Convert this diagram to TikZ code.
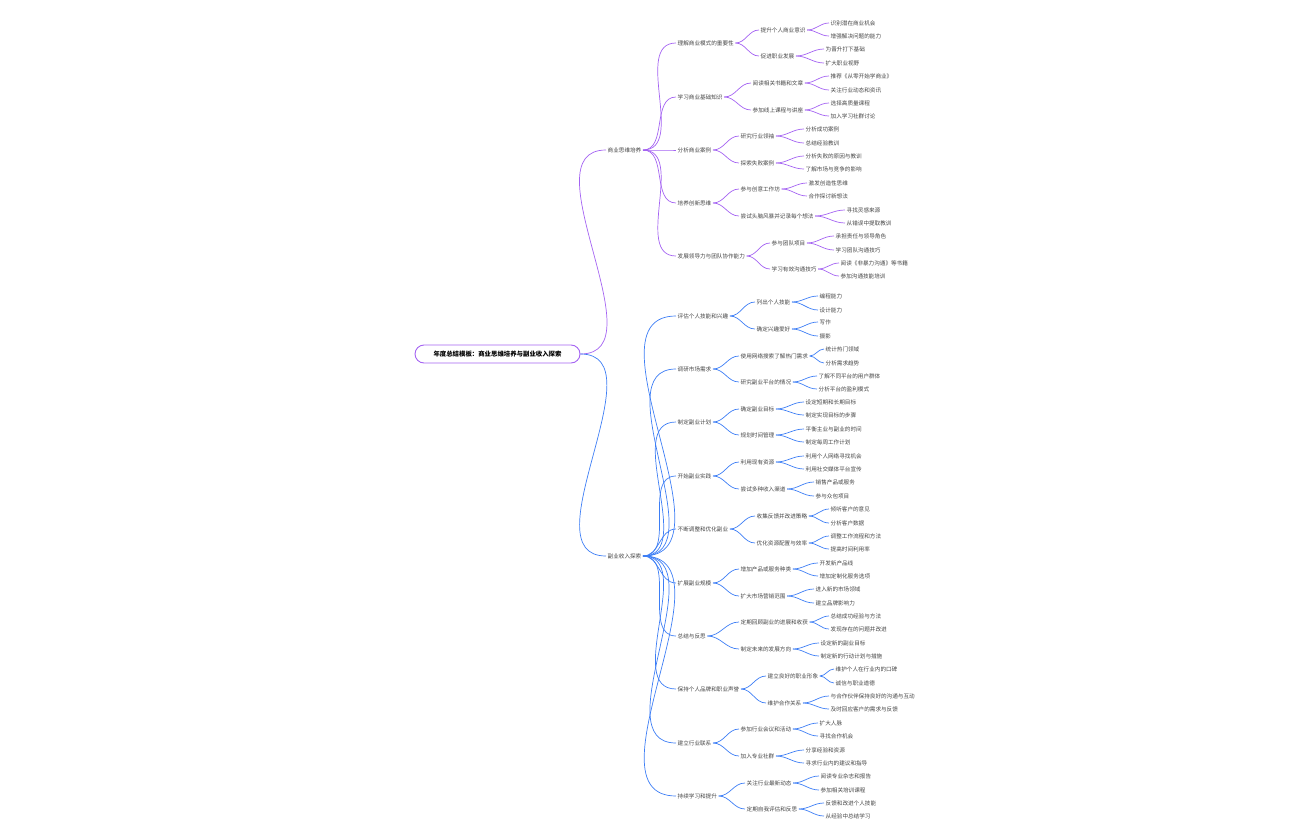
\documentclass[tikz,border=0pt]{standalone}
\usepackage{fontspec}
\setmainfont{Noto Sans CJK SC}
\definecolor{pu}{HTML}{A463F2}
\definecolor{bl}{HTML}{3D7EF5}
\definecolor{tx}{HTML}{444444}
\begin{document}
\begin{tikzpicture}[x=1pt,y=1pt,
  t/.style={anchor=west,inner sep=1.5pt,text=tx,font=\fontsize{5.6}{6}\selectfont},
  e/.style={line width=0.7pt}]
\useasboundingbox (0,0) rectangle (1296,-840);
\newcommand\N[5]{\node[t] (#1) at (#3,-#4) {#5}; \draw[e] (#2.east) to[out=0,in=180] (#1.west);}
\node[draw=pu,line width=0.9pt,rounded corners=9pt,minimum width=165pt,minimum height=18pt,inner sep=2pt,text=black,font=\fontsize{6.4}{7}\bfseries\selectfont] (R) at (497.5,-354) {年度总结模板：商业思维培养与副业收入探索};
\begin{scope}[pu]
\N{A}{R}{606}{150}{商业思维培养}
\N{A1}{A}{676}{43}{理解商业模式的重要性}
\N{A1a}{A1}{759}{30}{提升个人商业意识}
\N{A1a1}{A1a}{829}{23}{识别潜在商业机会}
\N{A1a2}{A1a}{829}{36}{增强解决问题的能力}
\N{A1b}{A1}{759}{56}{促进职业发展}
\N{A1b1}{A1b}{824}{49}{为晋升打下基础}
\N{A1b2}{A1b}{824}{63}{扩大职业视野}
\N{A2}{A}{676}{97}{学习商业基础知识}
\N{A2a}{A2}{751}{83}{阅读相关书籍和文章}
\N{A2a1}{A2a}{829}{76}{推荐《从零开始学商业》}
\N{A2a2}{A2a}{829}{90}{关注行业动态和资讯}
\N{A2b}{A2}{751}{110}{参加线上课程与讲座}
\N{A2b1}{A2b}{829}{103}{选择高质量课程}
\N{A2b2}{A2b}{829}{116}{加入学习社群讨论}
\N{A3}{A}{676}{150}{分析商业案例}
\N{A3a}{A3}{739}{136}{研究行业领袖}
\N{A3a1}{A3a}{804}{129}{分析成功案例}
\N{A3a2}{A3a}{804}{143}{总结经验教训}
\N{A3b}{A3}{739}{163}{探索失败案例}
\N{A3b1}{A3b}{804}{156}{分析失败的原因与教训}
\N{A3b2}{A3b}{804}{169}{了解市场与竞争的影响}
\N{A4}{A}{676}{203}{培养创新思维}
\N{A4a}{A4}{739}{189}{参与创意工作坊}
\N{A4a1}{A4a}{807}{183}{激发创造性思维}
\N{A4a2}{A4a}{807}{196}{合作探讨新想法}
\N{A4b}{A4}{739}{216}{尝试头脑风暴并记录每个想法}
\N{A4b1}{A4b}{845}{210}{寻找灵感来源}
\N{A4b2}{A4b}{845}{223}{从错误中提取教训}
\N{A5}{A}{676}{256}{发展领导力与团队协作能力}
\N{A5a}{A5}{770}{243}{参与团队项目}
\N{A5a1}{A5a}{834}{236}{承担责任与领导角色}
\N{A5a2}{A5a}{834}{250}{学习团队沟通技巧}
\N{A5b}{A5}{770}{269}{学习有效沟通技巧}
\N{A5b1}{A5b}{839}{263}{阅读《非暴力沟通》等书籍}
\N{A5b2}{A5b}{839}{276}{参加沟通技能培训}
\end{scope}
\begin{scope}[bl]
\N{B}{R}{606}{556}{副业收入探索}
\N{B1}{B}{676}{316}{评估个人技能和兴趣}
\N{B1a}{B1}{755}{302}{列出个人技能}
\N{B1a1}{B1a}{818}{296}{编程能力}
\N{B1a2}{B1a}{818}{310}{设计能力}
\N{B1b}{B1}{755}{329}{确定兴趣爱好}
\N{B1b1}{B1b}{818}{322}{写作}
\N{B1b2}{B1b}{818}{336}{摄影}
\N{B2}{B}{676}{369}{调研市场需求}
\N{B2a}{B2}{739}{356}{使用网络搜索了解热门需求}
\N{B2a1}{B2a}{824}{349}{统计热门领域}
\N{B2a2}{B2a}{824}{363}{分析需求趋势}
\N{B2b}{B2}{739}{382}{研究副业平台的情况}
\N{B2b1}{B2b}{817}{376}{了解不同平台的用户群体}
\N{B2b2}{B2b}{817}{389}{分析平台的盈利模式}
\N{B3}{B}{676}{422}{制定副业计划}
\N{B3a}{B3}{739}{409}{确定副业目标}
\N{B3a1}{B3a}{804}{402}{设定短期和长期目标}
\N{B3a2}{B3a}{804}{415}{制定实现目标的步骤}
\N{B3b}{B3}{739}{435}{规划时间管理}
\N{B3b1}{B3b}{804}{429}{平衡主业与副业的时间}
\N{B3b2}{B3b}{804}{442}{制定每周工作计划}
\N{B4}{B}{676}{476}{开始副业实践}
\N{B4a}{B4}{739}{462}{利用现有资源}
\N{B4a1}{B4a}{804}{456}{利用个人网络寻找机会}
\N{B4a2}{B4a}{804}{469}{利用社交媒体平台宣传}
\N{B4b}{B4}{739}{489}{尝试多种收入渠道}
\N{B4b1}{B4b}{814}{482}{销售产品或服务}
\N{B4b2}{B4b}{814}{496}{参与众包项目}
\N{B5}{B}{676}{529}{不断调整和优化副业}
\N{B5a}{B5}{755}{516}{收集反馈并改进策略}
\N{B5a1}{B5a}{829}{509}{倾听客户的意见}
\N{B5a2}{B5a}{829}{523}{分析客户数据}
\N{B5b}{B5}{755}{543}{优化资源配置与效率}
\N{B5b1}{B5b}{829}{536}{调整工作流程和方法}
\N{B5b2}{B5b}{829}{549}{提高时间利用率}
\N{B6}{B}{676}{583}{扩展副业规模}
\N{B6a}{B6}{739}{569}{增加产品或服务种类}
\N{B6a1}{B6a}{818}{563}{开发新产品线}
\N{B6a2}{B6a}{818}{576}{增加定制化服务选项}
\N{B6b}{B6}{739}{596}{扩大市场营销范围}
\N{B6b1}{B6b}{814}{589}{进入新的市场领域}
\N{B6b2}{B6b}{814}{603}{建立品牌影响力}
\N{B7}{B}{676}{636}{总结与反思}
\N{B7a}{B7}{739}{622}{定期回顾副业的进展和收获}
\N{B7a1}{B7a}{829}{616}{总结成功经验与方法}
\N{B7a2}{B7a}{829}{629}{发现存在的问题并改进}
\N{B7b}{B7}{739}{649}{制定未来的发展方向}
\N{B7b1}{B7b}{819}{643}{设定新的副业目标}
\N{B7b2}{B7b}{819}{656}{制定新的行动计划与措施}
\N{B8}{B}{676}{689}{保持个人品牌和职业声誉}
\N{B8a}{B8}{766}{676}{建立良好的职业形象}
\N{B8a1}{B8a}{834}{669}{维护个人在行业内的口碑}
\N{B8a2}{B8a}{834}{683}{诚信与职业道德}
\N{B8b}{B8}{766}{703}{维护合作关系}
\N{B8b1}{B8b}{829}{696}{与合作伙伴保持良好的沟通与互动}
\N{B8b2}{B8b}{829}{709}{及时回应客户的需求与反馈}
\N{B9}{B}{676}{743}{建立行业联系}
\N{B9a}{B9}{739}{729}{参加行业会议和活动}
\N{B9a1}{B9a}{818}{723}{扩大人脉}
\N{B9a2}{B9a}{818}{736}{寻找合作机会}
\N{B9b}{B9}{739}{756}{加入专业社群}
\N{B9b1}{B9b}{804}{750}{分享经验和资源}
\N{B9b2}{B9b}{804}{763}{寻求行业内的建议和指导}
\N{B10}{B}{676}{796}{持续学习和提升}
\N{B10a}{B10}{745}{783}{关注行业最新动态}
\N{B10a1}{B10a}{819}{776}{阅读专业杂志和报告}
\N{B10a2}{B10a}{819}{790}{参加相关培训课程}
\N{B10b}{B10}{745}{809}{定期自我评估和反思}
\N{B10b1}{B10b}{824}{803}{反馈和改进个人技能}
\N{B10b2}{B10b}{824}{816}{从经验中总结学习}
\end{scope}
\end{tikzpicture}
\end{document}
